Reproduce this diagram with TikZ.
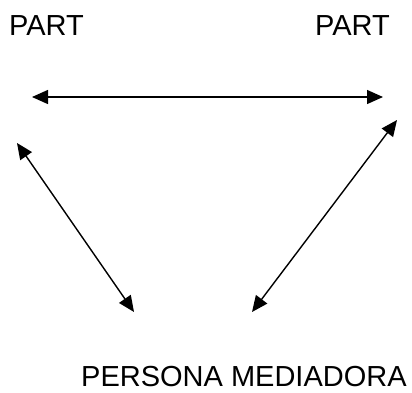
\documentclass[tikz,border=0pt]{standalone}
\usepackage{fontspec}
\setmainfont{Liberation Sans}
\usetikzlibrary{arrows.meta}
\begin{document}
\begin{tikzpicture}[x=1pt,y=-1pt,
  lbl/.style={inner sep=0pt,anchor=base west,font=\fontsize{29}{31}\selectfont},
  conn/.style={line width=1.4pt,{Triangle[length=16pt,width=14pt]}-{Triangle[length=16pt,width=14pt]}}]
\useasboundingbox (0,0) rectangle (412,392);
\node[lbl] (p1) at (9,35) {PART};
\node[lbl] (p2) at (315,35) {PART};
\node[lbl] (pm) at (81,386) {PERSONA MEDIADORA};
\coordinate (h1) at (32,97);
\coordinate (h2) at (383,97);
\coordinate (l1) at (17,143);
\coordinate (l2) at (134,312);
\coordinate (r1) at (397,120);
\coordinate (r2) at (252,312);
\draw[conn] (h1) -- (h2);
\draw[conn] (l1) -- (l2);
\draw[conn] (r1) -- (r2);
\end{tikzpicture}
\end{document}
